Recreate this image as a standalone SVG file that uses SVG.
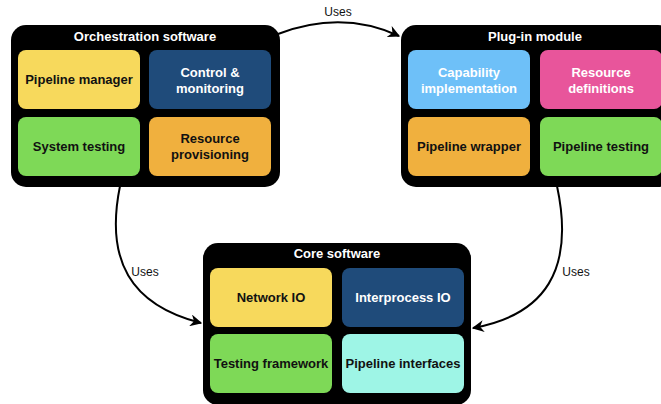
<svg xmlns="http://www.w3.org/2000/svg" width="661" height="404" viewBox="0 0 661 404">
<style>
.outer{fill:#000}
.inner{stroke:none}
.title{font-family:"Liberation Sans",Arial,sans-serif;font-weight:bold;font-size:13px;fill:#fff;text-anchor:middle}
.lbl{font-family:"Liberation Sans",Arial,sans-serif;font-weight:bold;font-size:13px;text-anchor:middle}
.dark{fill:#111}
.light{fill:#fff}
.conn{fill:none;stroke:#000;stroke-width:2}
.uses{font-family:"Liberation Sans",Arial,sans-serif;font-size:12px;fill:#111;text-anchor:middle}
</style>
<defs>
<marker id="ah" viewBox="0 0 10 10" refX="9" refY="5" markerWidth="6" markerHeight="6" markerUnits="strokeWidth" orient="auto">
<path d="M0,0 L10,5 L0,10 L3,5 Z" fill="#000"/>
</marker>
</defs>
<rect width="661" height="404" fill="#fff"/>
<g id="connectors">
<path class="conn" d="M278,34 C320,18 360,18 399,36" marker-end="url(#ah)"/>
<text class="uses" x="338" y="16">Uses</text>
<path class="conn" d="M120,186 C105,260 130,305 201,323" marker-end="url(#ah)"/>
<text class="uses" x="145" y="276">Uses</text>
<path class="conn" d="M557,186 C575,270 545,315 473,328" marker-end="url(#ah)"/>
<text class="uses" x="576" y="276">Uses</text>
</g>
<g id="orchestration">
<rect class="outer" x="11" y="25" width="269" height="162" rx="15"/>
<text class="title" x="145" y="41">Orchestration software</text>
<g id="pipeline-manager"><rect x="18" y="50" width="122" height="59" rx="8" fill="#F7D95C"/><text class="lbl dark" x="79" y="84">Pipeline manager</text></g>
<g id="control-monitoring"><rect x="149" y="50" width="122" height="59" rx="8" fill="#1F4B7A"/><text class="lbl light" x="210" y="77">Control &amp;</text><text class="lbl light" x="210" y="93">monitoring</text></g>
<g id="system-testing"><rect x="18" y="117" width="122" height="59" rx="8" fill="#7ED957"/><text class="lbl dark" x="79" y="151">System testing</text></g>
<g id="resource-provisioning"><rect x="149" y="117" width="122" height="59" rx="8" fill="#F0B03E"/><text class="lbl dark" x="210" y="143">Resource</text><text class="lbl dark" x="210" y="159">provisioning</text></g>
</g>
<g id="plugin">
<rect class="outer" x="401" y="25" width="272" height="162" rx="15"/>
<text class="title" x="535" y="41">Plug-in module</text>
<g id="capability"><rect x="408" y="50" width="122" height="59" rx="8" fill="#6EC0F8"/><text class="lbl light" x="469" y="77">Capability</text><text class="lbl light" x="469" y="93">implementation</text></g>
<g id="resource-definitions"><rect x="540" y="50" width="122" height="59" rx="8" fill="#E8559B"/><text class="lbl light" x="601" y="77">Resource</text><text class="lbl light" x="601" y="93">definitions</text></g>
<g id="pipeline-wrapper"><rect x="408" y="117" width="122" height="59" rx="8" fill="#F0B03E"/><text class="lbl dark" x="469" y="151">Pipeline wrapper</text></g>
<g id="pipeline-testing"><rect x="540" y="117" width="122" height="59" rx="8" fill="#7ED957"/><text class="lbl dark" x="601" y="151">Pipeline testing</text></g>
</g>
<g id="core">
<rect class="outer" x="203" y="243" width="268" height="162" rx="15"/>
<text class="title" x="337" y="258">Core software</text>
<g id="network-io"><rect x="210" y="268" width="122" height="59" rx="8" fill="#F7D95C"/><text class="lbl dark" x="271" y="302">Network IO</text></g>
<g id="interprocess-io"><rect x="342" y="268" width="122" height="59" rx="8" fill="#1F4B7A"/><text class="lbl light" x="403" y="302">Interprocess IO</text></g>
<g id="testing-framework"><rect x="210" y="334" width="122" height="59" rx="8" fill="#7ED957"/><text class="lbl dark" x="271" y="368">Testing framework</text></g>
<g id="pipeline-interfaces"><rect x="342" y="334" width="122" height="59" rx="8" fill="#9EF5E6"/><text class="lbl dark" x="403" y="368">Pipeline interfaces</text></g>
</g>
</svg>
